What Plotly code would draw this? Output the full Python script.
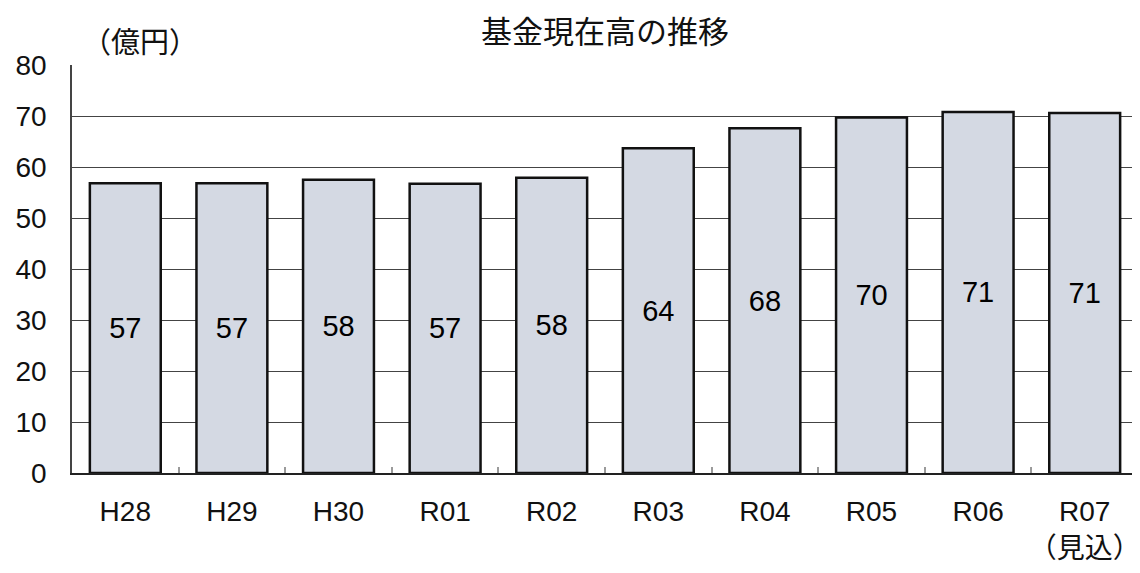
import plotly.graph_objects as go

categories = ["H28", "H29", "H30", "R01", "R02", "R03", "R04", "R05", "R06", "R07"]
tick_labels = ["H28", "H29", "H30", "R01", "R02", "R03", "R04", "R05", "R06", "R07<br>（見込）"]
values = [56.8, 56.8, 57.5, 56.7, 57.9, 63.7, 67.6, 69.7, 70.8, 70.6]
value_labels = ["57", "57", "58", "57", "58", "64", "68", "70", "71", "71"]
title_text = "基金現在高の推移"
unit_text = "（億円）"

FONT = "Liberation Sans, Arial, Noto Sans CJK JP, sans-serif"
CJK = "Noto Sans CJK JP, sans-serif"

fig = go.Figure()
fig.add_trace(go.Bar(
    x=categories,
    y=values,
    text=value_labels,
    textposition="inside",
    insidetextanchor="middle",
    textangle=0,
    constraintext="none",
    textfont=dict(size=29, color="#000000", family=FONT),
    marker=dict(color="#d4d9e3", line=dict(color="#111111", width=2.5)),
    hoverinfo="skip",
))

fig.update_layout(
    width=1132, height=565,
    margin=dict(l=64, r=2, t=57, b=100, autoexpand=False),
    paper_bgcolor="white", plot_bgcolor="white",
    bargap=0.335,
    showlegend=False,
    annotations=[
        dict(text=title_text, xref="paper", yref="paper", x=0.5, y=1 + 36 / 408,
             xanchor="center", yanchor="middle", showarrow=False,
             font=dict(size=31, color="#111111", family=CJK)),
        dict(text=unit_text, xref="paper", yref="paper", x=0.064, y=1 + 25 / 408,
             xanchor="center", yanchor="middle", showarrow=False,
             font=dict(size=29, color="#111111", family=CJK)),
    ],
)

fig.update_xaxes(
    type="category",
    tickvals=categories, ticktext=tick_labels,
    tickangle=0, automargin=False,
    tickson="boundaries", ticks="inside", ticklen=6, tickwidth=2, tickcolor="#9a9a9a",
    showline=True, linecolor="#222222", linewidth=1.5,
    showgrid=False,
    tickfont=dict(size=28, color="#111111", family=FONT),
    ticklabelstandoff=13,
)
fig.update_yaxes(
    range=[0, 80], dtick=10, automargin=False,
    showline=True, linecolor="#444444", linewidth=1.5,
    ticks="inside", ticklen=6, tickcolor="#444444",
    showgrid=True, gridcolor="#444444", gridwidth=1.2,
    zeroline=False,
    tickfont=dict(size=28, color="#111111", family=FONT),
    ticklabelstandoff=18,
)

fig.write_html("out.html")
